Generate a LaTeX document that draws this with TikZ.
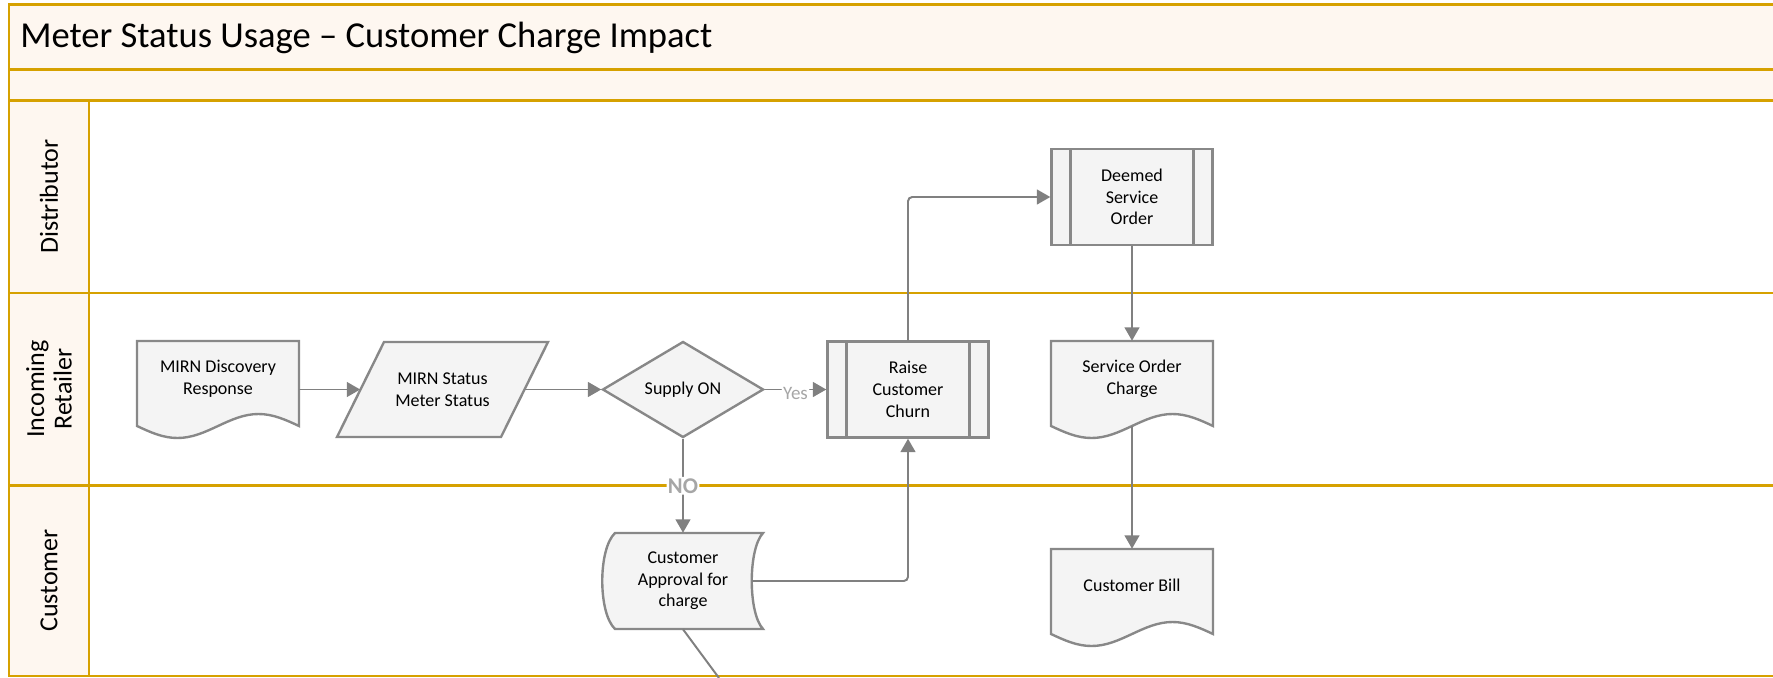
\documentclass[tikz,border=0pt]{standalone}
\usepackage{fontspec}
\setmainfont{Carlito}
\usetikzlibrary{shapes.geometric}
\usetikzlibrary{arrows.meta}
\definecolor{lanegold}{RGB}{214,161,0}
\definecolor{bandfill}{RGB}{254,247,240}
\definecolor{shapefill}{RGB}{244,244,244}
\definecolor{shapegray}{RGB}{136,136,136}
\definecolor{linegray}{RGB}{128,128,128}
\definecolor{labelgray}{RGB}{166,166,166}
\tikzset{
	lanestyle/.style={draw=lanegold,line width=2pt},
	lanelabelstyle/.style={rotate=90,align=center,font=\fontsize{18.5}{19.5}\selectfont},
	outlinestyle/.style={draw=shapegray,fill=shapefill,line width=1.7pt},
	shapebase/.style={align=center,font=\fontsize{12.8}{15.4}\selectfont,inner sep=0pt},
	docstyle/.style={shapebase,rectangle,minimum width=4.05cm,minimum height=2.125cm,execute at end node={\rule[-9pt]{0pt}{0pt}}},
	iostyle/.style={shapebase,rectangle,minimum width=4.1cm,minimum height=2.375cm},
	decisionstyle/.style={shapebase,outlinestyle,diamond,aspect=1.68,minimum width=4.025cm,minimum height=2.4cm},
	processstyle/.style={shapebase,outlinestyle,rectangle,minimum width=4.025cm,minimum height=2.4cm,
		path picture={\draw[shapegray,line width=1.7pt]
			([xshift=0.475cm]path picture bounding box.north west) -- ([xshift=0.475cm]path picture bounding box.south west)
			([xshift=-0.475cm]path picture bounding box.north east) -- ([xshift=-0.475cm]path picture bounding box.south east);}},
	storestyle/.style={shapebase,rectangle,minimum width=3.45cm,minimum height=2.4cm},
	flowstyle/.style={draw=linegray,line width=1.4pt,rounded corners=3pt,-{Stealth[inset=0pt,length=9.5pt,width=10.5pt]}},
	branchstyle/.style={fill=white,text=labelgray,inner sep=1pt}
}

\begin{document}
\begin{tikzpicture}[x=0.025cm,y=-0.025cm]
	\useasboundingbox (0,0) rectangle (1773,677);
	% swimlanes
	\fill[bandfill] (9,4.5) rectangle (1773,100.5);
	\fill[bandfill] (9,100.5) rectangle (89,676);
	\draw[lanestyle] (1773,4.5) -- (9,4.5) -- (9,676) -- (1773,676);
	\draw[lanestyle] (9,69.5) -- (1773,69.5);
	\draw[lanestyle] (9,100.5) -- (1773,100.5);
	\draw[lanestyle] (9,293) -- (1773,293);
	\draw[lanestyle] (9,485.5) -- (1773,485.5);
	\draw[lanestyle] (89,100.5) -- (89,676);
	\node[anchor=base west,inner sep=0pt,font=\fontsize{26}{30}\selectfont] (title) at (20,47) {Meter Status Usage -- Customer Charge Impact};
	\node[lanelabelstyle] (distlabel) at (49,196.5) {Distributor};
	\node[lanelabelstyle] (retaillabel) at (49,389) {Incoming\\Retailer};
	\node[lanelabelstyle] (custlabel) at (49,580.5) {Customer};
	% outlines of the odd shapes
	\filldraw[outlinestyle] (137,341) -- (299,341) -- (299,426) sin (258.5,414) cos (218,426) sin (177.5,438) cos (137,426) -- cycle;
	\filldraw[outlinestyle] (384,342) -- (548,342) -- (501,437) -- (337,437) -- cycle;
	\filldraw[outlinestyle] (1051,341) -- (1213,341) -- (1213,426) sin (1172.5,414) cos (1132,426) sin (1091.5,438) cos (1051,426) -- cycle;
	\filldraw[outlinestyle] (1051,549) -- (1213,549) -- (1213,634) sin (1172.5,622) cos (1132,634) sin (1091.5,646) cos (1051,634) -- cycle;
	\filldraw[outlinestyle] (615,533) -- (763,533) .. controls (748,549) and (748,613) .. (763,629) -- (615,629) .. controls (598,613) and (598,549) .. (615,533) -- cycle;
	% steps
	\node[docstyle] (discovery) at (218,383.5) {MIRN Discovery\\Response};
	\node[iostyle] (mirnstatus) at (442.5,389.5) {MIRN Status\\Meter Status};
	\node[decisionstyle] (supply) at (683,389.5) {Supply ON};
	\node[processstyle] (raise) at (908,389.5) {Raise\\Customer\\Churn};
	\node[processstyle] (deemed) at (1132,197) {Deemed\\Service\\Order};
	\node[docstyle] (socharge) at (1132,383.5) {Service Order\\Charge};
	\node[docstyle] (bill) at (1132,591.5) {Customer Bill};
	\node[storestyle] (approval) at (683,581) {Customer\\Approval for\\charge};
	\coordinate (approvalexit) at (719,678);
	% flows
	\draw[flowstyle] (discovery.east |- mirnstatus.west) -- (mirnstatus.west);
	\draw[flowstyle] (mirnstatus) -- (supply);
	\draw[flowstyle] (supply) -- node[branchstyle,yshift=-2.5pt,font=\fontsize{13.5}{16}\selectfont] {Yes} (raise);
	\draw[flowstyle] (supply.south) -- node[branchstyle,font=\fontsize{16}{18}\selectfont\bfseries] {NO} (approval.north);
	\draw[flowstyle] (approval.east) -| (raise.south);
	\draw[flowstyle] (raise.north) |- (deemed.west);
	\draw[flowstyle] (deemed) -- (socharge);
	\draw[flowstyle] (socharge) -- (bill);
	\draw[draw=linegray,line width=1.4pt] (approval.south) -- (approvalexit);
\end{tikzpicture}
\end{document}
